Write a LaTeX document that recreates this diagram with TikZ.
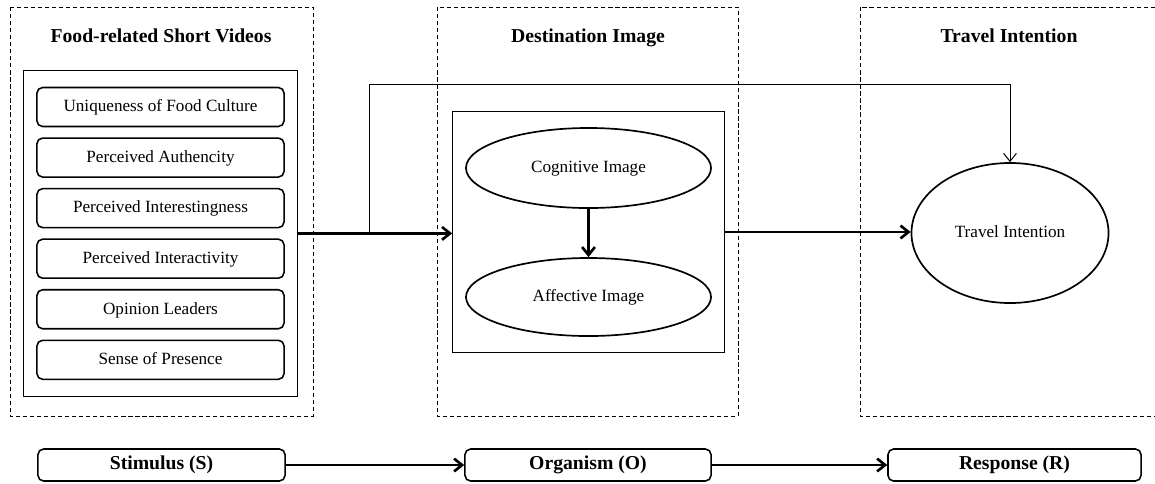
\documentclass[tikz,border=0pt]{standalone}
\usepackage{fontspec}
\setmainfont{Liberation Serif}
\usepackage{tikz}
\usetikzlibrary{arrows.meta,positioning,fit,shapes.geometric}

\begin{document}
\begin{tikzpicture}[x=0.025cm,y=-0.025cm,>={Straight Barb[length=2mm,width=3.2mm]}]
  \tikzstyle{stage}=[draw,densely dashed,line width=0.6pt]
  \tikzstyle{heading}=[font=\fontsize{14}{16}\selectfont\bfseries,text height=2ex,text depth=0.5ex]
  \tikzstyle{factor}=[rectangle,rounded corners=4pt,draw,line width=1.1pt,minimum width=6.175cm,minimum height=0.975cm,font=\fontsize{12.2}{14}\selectfont,text height=2ex,text depth=0.5ex]
  \tikzstyle{group}=[rectangle,draw,line width=0.8pt,inner xsep=0.31cm,inner ysep=0.4cm]
  \tikzstyle{construct}=[ellipse,draw,line width=1.2pt,font=\fontsize{12.2}{14}\selectfont,text height=2ex,text depth=0.5ex]
  \tikzstyle{sor}=[rectangle,rounded corners=4pt,draw,line width=1.1pt,minimum height=0.8cm,font=\fontsize{14}{16}\selectfont\bfseries,text height=2ex,text depth=0.5ex]
  \tikzstyle{flow}=[->,line width=1.9pt]
  \tikzstyle{feed}=[->,line width=0.7pt]

  \useasboundingbox (0,0) rectangle (1155,483);

  \draw[stage] (10,7) rectangle (313,416);
  \draw[stage] (437,7) rectangle (738,416);
  \draw[stage] (860,7) rectangle (1175,416);

  \node[heading] (h1) at (161,38) {Food-related Short Videos};
  \node[heading] (h2) at (588,38) {Destination Image};
  \node[heading] (h3) at (1009,38) {Travel Intention};

  \node[factor] (f1) at (160.5,107) {Uniqueness of Food Culture};
  \node[factor,below=0.25cm of f1] (f2) {Perceived Authencity};
  \node[factor,below=0.25cm of f2] (f3) {Perceived Interestingness};
  \node[factor,below=0.25cm of f3] (f4) {Perceived Interactivity};
  \node[factor,below=0.25cm of f4] (f5) {Opinion Leaders};
  \node[factor,below=0.25cm of f5] (f6) {Sense of Presence};
  \node[group,fit=(f1)(f6)] (videos) {};

  \node[construct,minimum width=6.125cm,minimum height=2cm] (cog) at (588.5,168) {Cognitive Image};
  \node[construct,minimum width=6.125cm,minimum height=1.95cm] (aff) at (588.5,297) {Affective Image};
  \node[group,fit=(cog.north)(aff.south)(cog.west)(cog.east)] (image) {};

  \node[construct,minimum width=4.925cm,minimum height=3.5cm] (ti) at (1010,233) {Travel Intention};

  \draw[flow] (videos.east) -- (videos.east -| image.west);
  \coordinate (split) at ([xshift=1.78cm]videos.east);
  \coordinate (loop) at ([yshift=3.71cm]split);
  \draw[feed] (split) -- (loop) -| (ti.north);
  \draw[flow] (cog.south) -- (aff.north);
  \draw[flow] (image.east) -- (image.east -| ti.west);

  \node[sor,minimum width=6.175cm] (s) at (161.5,465) {Stimulus (S)};
  \node[sor,minimum width=6.15cm] (o) at (588,465) {Organism (O)};
  \node[sor,minimum width=6.325cm] (r) at (1014.5,465) {Response (R)};

  \draw[flow] (s) -- (o);
  \draw[flow] (o) -- (r);
\end{tikzpicture}
\end{document}
